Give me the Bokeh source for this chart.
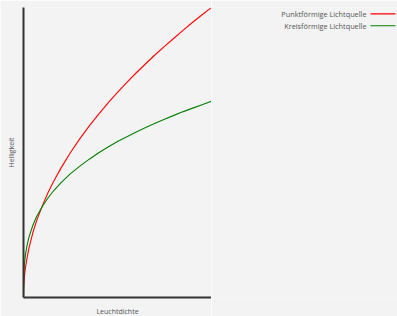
from bokeh.plotting import figure
from bokeh.layouts import row
from bokeh.models import Range1d, FixedTicker, ColumnDataSource
from bokeh.core.properties import value
from bokeh.embed import file_html
from bokeh.resources import INLINE

# Leuchtdichte (normalized) and Helligkeit values
x_vals = [0.0, 0.001, 0.002, 0.005, 0.01, 0.02, 0.03, 0.05, 0.07, 0.1, 0.13, 0.16, 0.2, 0.25, 0.3,
          0.35, 0.4, 0.45, 0.5, 0.55, 0.6, 0.65, 0.7, 0.75, 0.8, 0.85, 0.9, 0.95, 1.0]
punkt = [0.0, 0.032, 0.045, 0.071, 0.10, 0.141, 0.173, 0.224, 0.265, 0.316, 0.361, 0.40, 0.447, 0.50, 0.548,
         0.592, 0.632, 0.671, 0.707, 0.742, 0.775, 0.806, 0.837, 0.866, 0.894, 0.922, 0.949, 0.975, 1.0]
kreis = [0.0, 0.068, 0.085, 0.116, 0.146, 0.183, 0.211, 0.249, 0.279, 0.314, 0.343, 0.368, 0.396, 0.427, 0.453,
         0.477, 0.499, 0.519, 0.538, 0.554, 0.571, 0.586, 0.601, 0.615, 0.628, 0.641, 0.653, 0.665, 0.677]

series_labels = ["Punktförmige Lichtquelle", "Kreisförmige Lichtquelle"]
series_colors = ["#ff0000", "#008000"]
x_label = "Leuchtdichte"
y_label = "Helligkeit"

BG = "#f3f3f3"
FONT = "Open Sans"
TXT = "#555555"

p = figure(width=211, height=318, output_backend="svg", toolbar_location=None,
           x_range=Range1d(0, 1), y_range=Range1d(0, 1),
           min_border_left=23, min_border_right=0, min_border_top=7, min_border_bottom=17)
p.background_fill_color = BG
p.border_fill_color = BG
p.outline_line_color = None
p.grid.visible = False

p.line(x_vals, punkt, line_color=series_colors[0], line_width=1.1)
p.line(x_vals, kreis, line_color=series_colors[1], line_width=1.1)

for ax in (p.xaxis[0], p.yaxis[0]):
    ax.ticker = FixedTicker(ticks=[])
    ax.major_tick_line_color = None
    ax.minor_tick_line_color = None
    ax.major_label_text_font_size = "0px"
    ax.axis_line_color = "#333333"
    ax.axis_line_width = 2
    ax.axis_label_text_font = FONT
    ax.axis_label_text_font_size = "7px"
    ax.axis_label_text_font_style = "normal"
    ax.axis_label_text_color = TXT
p.xaxis.axis_label = x_label
p.yaxis.axis_label = y_label
p.xaxis[0].axis_label_standoff = 9
p.yaxis[0].axis_label_standoff = 8

# legend panel
lg = figure(width=186, height=318, output_backend="svg", toolbar_location=None,
            x_range=Range1d(0, 186), y_range=Range1d(318, 0),
            min_border=0, x_axis_location=None, y_axis_location=None)
lg.background_fill_color = BG
lg.border_fill_color = BG
lg.outline_line_color = None
lg.grid.visible = False
row_y = [7, 20]
src = ColumnDataSource(dict(x=[155, 155], x0=[159, 159], x1=[184, 184], y=row_y,
                            label=series_labels, color=series_colors))
lg.text(x="x", y="y", text="label", source=src, text_align="right", text_baseline="middle",
        text_font=value(FONT), text_font_size="7.3px", text_color=TXT)
lg.segment(x0="x0", y0="y", x1="x1", y1="y", source=src, line_color="color", line_width=1.2)

layout = row(p, lg, spacing=0)
open("out.html", "w").write(file_html(layout, INLINE))
